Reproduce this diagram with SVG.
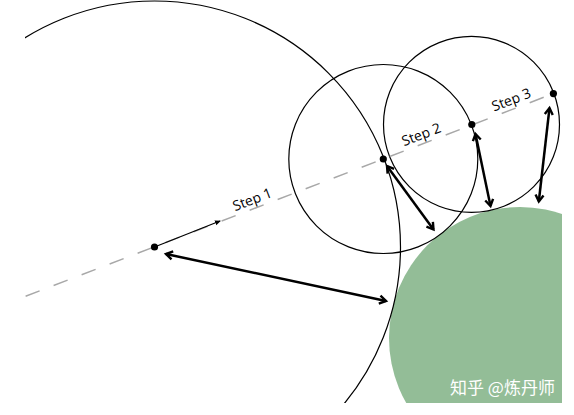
<svg xmlns="http://www.w3.org/2000/svg" width="574" height="415" viewBox="0 0 574 415">
<style>
.c{fill:none;stroke:#000;stroke-width:1.2}
.a{fill:none;stroke:#000;stroke-width:2.5;marker-start:url(#h);marker-end:url(#h)}
.lbl{font-family:"Open Sans","Liberation Sans",sans-serif;font-size:14px;fill:#000;text-anchor:middle}
.dot{fill:#000}
</style>
<defs>
<clipPath id="clip"><rect x="25" y="0" width="537" height="403"/></clipPath>
<marker id="h" viewBox="0 0 10 10" refX="9" refY="5" markerWidth="10" markerHeight="10" markerUnits="userSpaceOnUse" orient="auto-start-reverse" overflow="visible">
<path d="M2.5,1 L9,5 L2.5,9" fill="none" stroke="#000" stroke-width="2.4" stroke-linejoin="miter"/>
</marker>
<marker id="s" viewBox="0 0 6 6" refX="5" refY="3" markerWidth="6" markerHeight="6" markerUnits="userSpaceOnUse" orient="auto">
<path d="M0,0.5 L6,3 L0,5.5 z" fill="#000"/>
</marker>
</defs>
<rect width="574" height="415" fill="#fff"/>
<g clip-path="url(#clip)">
<g id="obstacle"><circle cx="520" cy="338" r="131" fill="#93bd97"/></g>
<g id="circles">
<circle id="circle1" class="c" cx="154.5" cy="247" r="246"/>
<circle id="circle2" class="c" cx="383.3" cy="159" r="94.5"/>
<circle id="circle3" class="c" cx="471.5" cy="124.4" r="88"/>
</g>
<g id="ray">
<line x1="25.6" y1="296.3" x2="553.4" y2="93.6" stroke="#a8a8a8" stroke-width="1.5" stroke-dasharray="15 15"/>
</g>
<g id="connectors">
<line x1="154.5" y1="247" x2="220" y2="221" stroke="#000" stroke-width="1.2" marker-end="url(#s)"/>
<line class="a" x1="166" y1="254" x2="386" y2="301"/>
<line class="a" x1="387" y1="166" x2="433.5" y2="229.5"/>
<line class="a" x1="475.5" y1="134" x2="490.5" y2="206"/>
<line class="a" x1="549.5" y1="108" x2="538.8" y2="201.5"/>
</g>
<g id="points">
<circle class="dot" cx="154.5" cy="247" r="3.6"/>
<circle class="dot" cx="383.3" cy="159" r="3.6"/>
<circle class="dot" cx="471.8" cy="124.5" r="3.6"/>
<circle class="dot" cx="553.4" cy="93.6" r="3.6"/>
</g>
<g id="labels">
<text class="lbl" transform="translate(254,204) rotate(-21)">Step 1</text>
<text class="lbl" transform="translate(423,139) rotate(-21)">Step 2</text>
<text class="lbl" transform="translate(513,104.3) rotate(-21)">Step 3</text>
</g>
<text x="450" y="394" font-family="'Noto Sans CJK SC',sans-serif" font-size="17" fill="#fff">知乎 @炼丹师</text>
</g>
</svg>
